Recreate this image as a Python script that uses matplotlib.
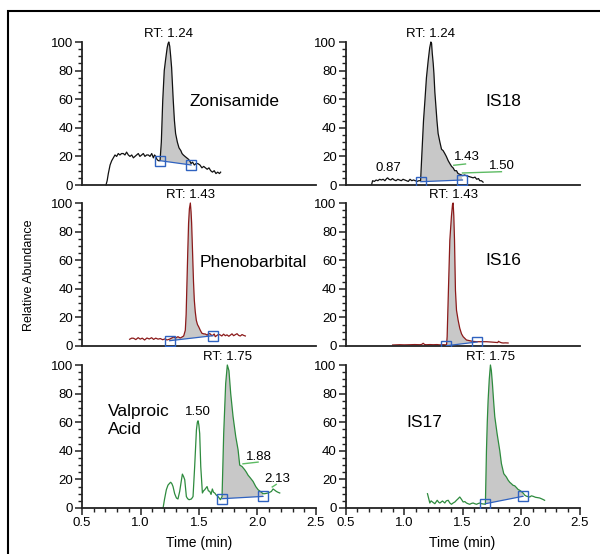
import numpy as np
import matplotlib
matplotlib.use("Agg")
import matplotlib.pyplot as plt
from matplotlib.patches import Rectangle
from matplotlib.ticker import MultipleLocator, FormatStrFormatter

plt.rcParams['font.family'] = ['Liberation Sans', 'DejaVu Sans']

# --- chromatogram data (time in min, relative abundance) ---
zon_t = [0.705, 0.715, 0.725, 0.74, 0.754, 0.768, 0.782, 0.796, 0.81, 0.824,
         0.838, 0.853, 0.867, 0.881, 0.896, 0.91, 0.925, 0.939, 0.953, 0.967,
         0.981, 0.995, 1.01, 1.024, 1.038, 1.053, 1.067, 1.081, 1.096, 1.11,
         1.12, 1.13, 1.14, 1.152, 1.167, 1.178, 1.19, 1.203, 1.215, 1.228,
         1.236, 1.242, 1.25, 1.258, 1.266, 1.28, 1.29, 1.30, 1.315, 1.329,
         1.345, 1.355, 1.366, 1.38, 1.395, 1.41, 1.42, 1.432, 1.445, 1.46,
         1.475, 1.49, 1.508, 1.525, 1.54, 1.555, 1.57, 1.585, 1.60, 1.615,
         1.63, 1.645, 1.66, 1.675, 1.685]
zon_y = [0, 3, 8, 14, 17, 19, 21, 20, 22, 21,
         22, 22, 21, 23, 21, 20, 21, 19, 20, 21,
         22, 20, 21, 22, 20, 21, 21, 20, 22, 19,
         21, 20, 18, 17, 17, 30, 59, 80, 88, 96,
         99, 100, 97, 90, 82, 59, 45, 36, 30, 26,
         24, 22, 21, 20, 19, 18, 17, 15, 16, 14,
         15, 15, 14, 12, 13, 12, 11, 12, 10, 9,
         10, 8, 9, 8, 9]

is18_t = [0.722, 0.73, 0.745, 0.76, 0.775, 0.79, 0.805, 0.82, 0.835, 0.85,
          0.858, 0.87, 0.885, 0.90, 0.915, 0.93, 0.945, 0.96, 0.975, 0.99,
          1.005, 1.02, 1.035, 1.05, 1.065, 1.08, 1.095, 1.11, 1.125, 1.14,
          1.15, 1.165, 1.177, 1.19, 1.205, 1.218, 1.228, 1.234, 1.24, 1.248,
          1.254, 1.262, 1.271, 1.28, 1.29, 1.305, 1.319, 1.333, 1.347, 1.36,
          1.376, 1.39, 1.405, 1.418, 1.432, 1.447, 1.46, 1.475, 1.49, 1.50,
          1.515, 1.532, 1.55, 1.57, 1.589, 1.605, 1.62, 1.635, 1.646, 1.66,
          1.674]
is18_y = [0.5, 3, 2.5, 3.5, 3, 4, 3.5, 4, 3, 4.5,
          5, 4, 3.5, 4.5, 3.5, 3, 4, 3.5, 3, 4,
          3.5, 3, 2.5, 4, 3, 3.5, 3, 2.5, 3, 3,
          20, 45, 59, 75, 87, 96, 100, 99, 92, 85,
          78, 65, 55, 45, 36, 30, 25, 24, 22, 20,
          17, 15, 13, 12, 10, 10, 8, 7.5, 7, 6.5,
          7, 6.5, 6, 5.5, 5, 5.5, 4, 4.5, 3, 3,
          2]

phe_t = [0.907, 0.925, 0.941, 0.96, 0.98, 0.998, 1.015, 1.035, 1.055, 1.075,
         1.095, 1.112, 1.13, 1.15, 1.169, 1.19, 1.21, 1.226, 1.249, 1.265,
         1.283, 1.30, 1.32, 1.34, 1.355, 1.369, 1.383, 1.39, 1.397, 1.404,
         1.411, 1.418, 1.426, 1.432, 1.437, 1.446, 1.453, 1.46, 1.468, 1.477,
         1.487, 1.497, 1.511, 1.525, 1.54, 1.554, 1.57, 1.584, 1.597, 1.61,
         1.619, 1.63, 1.639, 1.655, 1.668, 1.682, 1.695, 1.71, 1.725, 1.739,
         1.755, 1.768, 1.782, 1.796, 1.81, 1.825, 1.839, 1.853, 1.868, 1.882,
         1.896]
phe_y = [4.7, 5.5, 5.4, 4.5, 5.8, 4.8, 5.5, 4.2, 5.6, 4.9,
         5.8, 4.6, 5.5, 4.8, 5.2, 4.4, 5, 4.2, 4.8, 5.5,
         6.3, 5.6, 6.5, 5.6, 6.3, 7, 11, 22, 44, 66,
         86, 96, 100, 94, 86, 63, 45, 32, 24, 18,
         15, 13.5, 11, 8.9, 8.5, 8.4, 7.6, 8.8, 8.4, 7.2,
         7.6, 8.4, 6.5, 7.5, 8.2, 7.7, 7.0, 8.3, 7.2, 7.8,
         6.8, 7.6, 8.5, 7.2, 7.9, 8.6, 7.4, 7.0, 8.0, 7.4,
         7.0]

is16_t = [0.901, 0.93, 0.963, 1.0, 1.049, 1.09, 1.134, 1.15, 1.162, 1.175,
          1.191, 1.22, 1.248, 1.28, 1.305, 1.335, 1.355, 1.362, 1.367, 1.378,
          1.39, 1.404, 1.413, 1.418, 1.424, 1.43, 1.438, 1.447, 1.461, 1.475,
          1.49, 1.504, 1.532, 1.56, 1.589, 1.623, 1.66, 1.703, 1.74, 1.77,
          1.80, 1.806, 1.815, 1.83, 1.845, 1.865, 1.888]
is16_y = [0.7, 0.8, 0.9, 0.8, 0.9, 1.0, 0.9, 1.1, 1.9, 1.0,
          0.9, 1.0, 0.9, 1.0, 0.8, 0.9, 0.8, 0.8, 6.5, 39,
          74, 91, 99, 100, 91, 74, 39, 25, 18, 12.4,
          8.5, 6.5, 4.2, 3.7, 3.2, 3.0, 3.0, 3.0, 2.8, 2.6,
          2.4, 3.3, 2.8, 2.3, 2.1, 2.2, 2.1]

vpa_t = [1.193, 1.205, 1.221, 1.235, 1.25, 1.258, 1.268, 1.278, 1.292, 1.307,
         1.32, 1.335, 1.347, 1.358, 1.368, 1.378, 1.392, 1.403, 1.415, 1.435,
         1.449, 1.463, 1.478, 1.486, 1.492, 1.499, 1.506, 1.515, 1.529, 1.539,
         1.549, 1.569, 1.58, 1.592, 1.603, 1.614, 1.624, 1.634, 1.648, 1.663,
         1.683, 1.697, 1.711, 1.728, 1.742, 1.756, 1.771, 1.791, 1.814, 1.834,
         1.848, 1.868, 1.891, 1.905, 1.919, 1.939, 1.962, 1.985, 2.005, 2.033,
         2.047, 2.062, 2.09, 2.105, 2.119, 2.133, 2.147, 2.161, 2.175, 2.19]
vpa_y = [0, 6, 12.8, 16, 17.4, 18, 17, 15, 10, 7,
         6.3, 11.6, 18, 23.7, 22, 19.8, 8, 6.5, 5.8, 6.3,
         8, 29, 54.6, 60, 61, 58, 52, 29, 10.5, 12,
         12.8, 15, 12, 11.6, 9.5, 13.3, 11, 10.5, 9, 8,
         5.8, 8, 52, 87, 100, 96, 80, 64, 50, 40.7,
         30, 29, 26.7, 25, 23, 21, 18.6, 15, 12.8, 11,
         10, 10, 10.5, 11, 11.6, 13.3, 12.5, 11.6, 11, 10.5]

is17_t = [1.199, 1.219, 1.23, 1.242, 1.262, 1.282, 1.295, 1.305, 1.327, 1.347,
          1.36, 1.376, 1.39, 1.404, 1.418, 1.433, 1.447, 1.461, 1.475, 1.49,
          1.504, 1.518, 1.532, 1.546, 1.56, 1.575, 1.589, 1.603, 1.618, 1.632,
          1.646, 1.66, 1.677, 1.694, 1.703, 1.71, 1.717, 1.727, 1.737, 1.745,
          1.754, 1.764, 1.774, 1.794, 1.817, 1.831, 1.851, 1.873, 1.888, 1.902,
          1.916, 1.93, 1.945, 1.959, 1.973, 1.987, 2.002, 2.016, 2.03, 2.046,
          2.059, 2.073, 2.087, 2.101, 2.122, 2.144, 2.158, 2.172, 2.186, 2.2]
is17_y = [10, 3.5, 5, 4.2, 3, 5.4, 4, 3.5, 4.9, 3.5,
          5, 5.4, 3.5, 2.6, 3.5, 4.2, 5.4, 6.5, 7.7, 6,
          4.2, 4.5, 3.5, 3, 2.6, 3.2, 3.5, 3, 2.6, 3.1,
          3.5, 3, 2.8, 2.6, 40, 60, 75, 90, 100, 96,
          87, 75, 64, 52, 40, 31, 24, 21.7, 19.5, 18,
          17, 15.9, 15.5, 14.3, 13, 12.4, 11.5, 10.5, 9, 8.2,
          8, 7.7, 8.5, 8.2, 7.5, 7.2, 7, 6.5, 6, 5.4]

# integration baseline end points (time, abundance)
zon_base = [(1.167, 17), (1.432, 14)]
is18_base = [(1.142, 2.3), (1.498, 3.5)]
phe_base = [(1.249, 3.7), (1.619, 7.2)]
is16_base = [(1.361, 0.2), (1.623, 2.8)]
vpa_base = [(1.697, 6.5), (2.047, 8.1)]
is17_base = [(1.694, 3.0), (2.016, 8.2)]

names = ["Zonisamide", "IS18", "Phenobarbital", "IS16", "Valproic\nAcid", "IS17"]
rt_labels = ["1.24", "1.24", "1.43", "1.43", "1.75", "1.75"]

BLACK = "#111111"
RED = "#8B1A1A"
GREEN = "#2E8B3E"
BLUE = "#2F62C0"
LGREEN = "#5DBB63"

panels = [
    (zon_t, zon_y, zon_base, BLACK),
    (is18_t, is18_y, is18_base, BLACK),
    (phe_t, phe_y, phe_base, RED),
    (is16_t, is16_y, is16_base, RED),
    (vpa_t, vpa_y, vpa_base, GREEN),
    (is17_t, is17_y, is17_base, GREEN),
]

# name label positions (data coords) and alignment
name_pos = [(1.42, 58.4, "left"), (1.845, 58.4, "center"), (1.508, 58.7, "left"),
            (1.845, 59.8, "center"), (0.722, 61, "left"), (1.168, 59.8, "center")]

W, H = 600, 554
fig = plt.figure(figsize=(W / 100, H / 100), dpi=100)

lefts = [82, 345.7]
tops = [42, 203, 365]
aw, ah = 234, 143

axes = []
for r in range(3):
    for c in range(2):
        ax = fig.add_axes([lefts[c] / W, 1 - (tops[r] + ah) / H, aw / W, ah / H])
        axes.append(ax)

for i, ax in enumerate(axes):
    t, y, base, col = panels[i]
    t = np.array(t)
    y = np.array(y)
    ax.set_xlim(0.5, 2.5)
    ax.set_ylim(0, 100)
    for s in ["top", "right"]:
        ax.spines[s].set_visible(False)
    for s in ["left", "bottom"]:
        ax.spines[s].set_linewidth(1.3)
        ax.spines[s].set_color("#222222")
    ax.xaxis.set_major_locator(MultipleLocator(0.5))
    ax.xaxis.set_minor_locator(MultipleLocator(0.1))
    ax.xaxis.set_major_formatter(FormatStrFormatter("%.1f"))
    ax.yaxis.set_major_locator(MultipleLocator(20))
    ax.yaxis.set_minor_locator(MultipleLocator(5))
    ax.tick_params(which="major", length=5, width=1.1, labelsize=9.5, pad=1.5, color="#222222")
    ax.tick_params(which="minor", length=3, width=1.0, color="#222222")
    if i < 4:
        ax.tick_params(axis="x", which="both", bottom=False, labelbottom=False)

    # peak area fill between trace and baseline
    (t1, b1), (t2, b2) = base
    m = (t >= t1) & (t <= t2)
    ax.fill(np.r_[t1, t[m], t2], np.r_[b1, y[m], b2], color="#C8C8C8", lw=0, zorder=1)
    ax.plot(t, y, color=col, lw=0.9, zorder=2, clip_on=False)
    ax.plot([t1, t2], [b1, b2], color=BLUE, lw=0.9, zorder=3)
    ax.plot([t1, t2], [b1, b2], ls="none", marker="s", ms=7, mfc="none",
            mec=BLUE, mew=1.0, zorder=4)

    pk = t[np.argmax(y)]
    ax.annotate("RT: " + rt_labels[i], xy=(pk, 100), xytext=(0, 1.5),
                textcoords="offset points", ha="center", va="bottom", fontsize=9.5)

    nx, ny, ha = name_pos[i]
    ax.text(nx, ny, names[i], ha=ha, va="center", fontsize=12.5, linespacing=1.25)

# extra peak labels
ax = axes[1]
ax.text(0.864, 11.7, "0.87", ha="center", va="center", fontsize=9.5)
ax.text(1.424, 19.5, "1.43", ha="left", va="center", fontsize=9.5)
ax.plot([1.424, 1.524], [13.8, 14.7], color=LGREEN, lw=1.0)
ax.text(1.725, 13.6, "1.50", ha="left", va="center", fontsize=9.5)
ax.plot([1.498, 1.831], [8.4, 9.3], color=LGREEN, lw=1.0)

ax = axes[4]
ax.text(1.493, 67.4, "1.50", ha="center", va="center", fontsize=9.5)
ax.text(1.90, 36, "1.88", ha="left", va="center", fontsize=9.5)
ax.plot([1.876, 2.005], [30.9, 32.1], color=LGREEN, lw=1.0)
ax.text(2.056, 20.5, "2.13", ha="left", va="center", fontsize=9.5)
ax.plot([2.126, 2.16], [14.7, 16.5], color=LGREEN, lw=1.0)

fig.text(199 / W, 1 - 543 / H, "Time (min)", ha="center", va="center", fontsize=10)
fig.text(462 / W, 1 - 543 / H, "Time (min)", ha="center", va="center", fontsize=10)
fig.text(29 / W, 1 - 275 / H, "Relative Abundance", rotation=90,
         ha="center", va="center", fontsize=9)

# outer frame (only top and left edges are visible in the crop)
fig.add_artist(Rectangle((7.5 / W, -0.05), 1.0, 1 - 10.5 / H + 0.05, fill=False,
                         lw=1.5, ec="black", transform=fig.transFigure))

fig.savefig("out.png", dpi=100)
